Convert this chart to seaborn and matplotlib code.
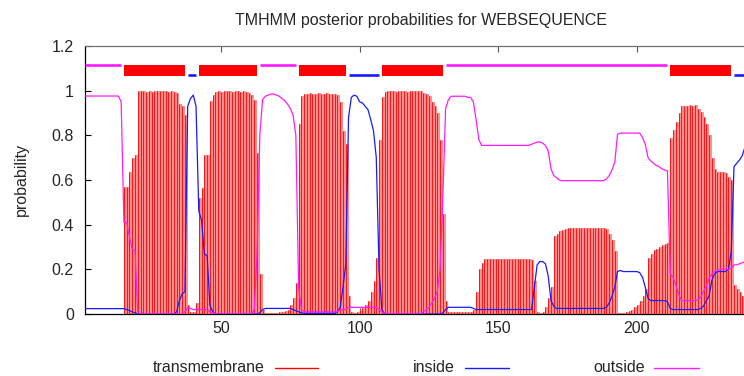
import matplotlib
matplotlib.use("Agg")
import matplotlib.pyplot as plt
from matplotlib.lines import Line2D
import pandas as pd
import seaborn as sns

# Per-residue posterior probabilities (residues 1..239)
tm_prob = [
    0, 0, 0, 0, 0, 0, 0, 0, 0, 0,
    0, 0, 0, 0, 0.57, 0.57, 0.635, 0.70, 0.71, 1.0,
    1.0, 1.0, 0.995, 1.0, 0.995, 1.0, 1.0, 1.0, 1.0, 1.0,
    0.995, 1.0, 0.995, 0.99, 0.94, 0.93, 0.89, 0.04, 0.01, 0.01,
    0.05, 0.52, 0.565, 0.71, 0.71, 0.955, 0.98, 0.995, 1.0, 0.995,
    1.0, 1.0, 1.0, 0.995, 1.0, 1.0, 0.995, 1.0, 0.995, 0.99,
    0.98, 0.96, 0.72, 0.18, 0.02, 0.005, 0.005, 0.005, 0.005, 0.005,
    0.01, 0.01, 0.015, 0.02, 0.04, 0.07, 0.14, 0.85, 0.975, 0.985,
    0.985, 0.99, 0.985, 0.985, 0.99, 0.985, 0.985, 0.99, 0.985, 0.985,
    0.985, 0.98, 0.95, 0.82, 0.76, 0.08, 0.01, 0.005, 0.01, 0.02,
    0.025, 0.04, 0.06, 0.10, 0.15, 0.25, 0.78, 0.97, 0.995, 1.0,
    1.0, 1.0, 0.995, 1.0, 1.0, 1.0, 0.995, 1.0, 1.0, 1.0,
    1.0, 1.0, 0.99, 0.985, 0.975, 0.95, 0.93, 0.90, 0.78, 0.45,
    0.06, 0.01, 0.01, 0.01, 0.01, 0.01, 0.01, 0.01, 0.01, 0.01,
    0.02, 0.10, 0.20, 0.23, 0.245, 0.245, 0.245, 0.245, 0.245, 0.245,
    0.245, 0.245, 0.245, 0.245, 0.245, 0.245, 0.245, 0.245, 0.245, 0.245,
    0.245, 0.24, 0.15, 0.01, 0.005, 0.01, 0.03, 0.07, 0.12, 0.35,
    0.36, 0.37, 0.375, 0.38, 0.385, 0.385, 0.385, 0.385, 0.385, 0.385,
    0.385, 0.385, 0.385, 0.385, 0.385, 0.385, 0.385, 0.385, 0.38, 0.36,
    0.33, 0.28, 0.005, 0.005, 0.005, 0.01, 0.015, 0.02, 0.03, 0.04,
    0.06, 0.08, 0.11, 0.25, 0.27, 0.285, 0.29, 0.30, 0.31, 0.315,
    0.32, 0.79, 0.825, 0.86, 0.90, 0.93, 0.93, 0.93, 0.935, 0.93,
    0.935, 0.92, 0.905, 0.88, 0.85, 0.80, 0.70, 0.65, 0.635, 0.635,
    0.635, 0.63, 0.615, 0.60, 0.13, 0.11, 0.10, 0.08, 0.07,
]

inside_prob = [
    0.024, 0.024, 0.024, 0.024, 0.024, 0.024, 0.024, 0.024, 0.024, 0.024,
    0.024, 0.024, 0.024, 0.024, 0.024, 0.02, 0.015, 0.01, 0.005, 0.0,
    0, 0, 0, 0, 0, 0, 0, 0, 0, 0,
    0, 0, 0, 0.01, 0.06, 0.09, 0.10, 0.93, 0.965, 0.98,
    0.93, 0.46, 0.42, 0.27, 0.26, 0.04, 0.01, 0, 0, 0,
    0, 0, 0, 0, 0, 0, 0, 0, 0, 0,
    0, 0, 0, 0.005, 0.02, 0.025, 0.025, 0.025, 0.025, 0.025,
    0.025, 0.025, 0.025, 0.025, 0.025, 0.02, 0.015, 0.01, 0.005, 0.003,
    0.003, 0.003, 0.003, 0.003, 0.003, 0.003, 0.003, 0.003, 0.003, 0.003,
    0.003, 0.01, 0.03, 0.12, 0.22, 0.88, 0.97, 0.98, 0.975, 0.95,
    0.945, 0.93, 0.915, 0.87, 0.82, 0.70, 0.20, 0.02, 0, 0,
    0, 0, 0, 0, 0, 0, 0, 0, 0, 0,
    0, 0, 0, 0, 0, 0, 0, 0, 0, 0.005,
    0.02, 0.03, 0.03, 0.03, 0.03, 0.03, 0.03, 0.03, 0.03, 0.03,
    0.025, 0.02, 0.02, 0.02, 0.02, 0.02, 0.02, 0.02, 0.02, 0.02,
    0.02, 0.02, 0.02, 0.02, 0.02, 0.02, 0.02, 0.02, 0.02, 0.02,
    0.02, 0.02, 0.12, 0.22, 0.235, 0.235, 0.225, 0.17, 0.06, 0.035,
    0.025, 0.025, 0.025, 0.025, 0.025, 0.025, 0.025, 0.025, 0.025, 0.025,
    0.025, 0.025, 0.025, 0.025, 0.025, 0.025, 0.025, 0.025, 0.03, 0.05,
    0.08, 0.12, 0.19, 0.195, 0.19, 0.19, 0.19, 0.19, 0.19, 0.19,
    0.185, 0.165, 0.12, 0.07, 0.06, 0.06, 0.06, 0.06, 0.06, 0.06,
    0.055, 0.025, 0.02, 0.02, 0.02, 0.02, 0.02, 0.02, 0.02, 0.02,
    0.02, 0.02, 0.025, 0.035, 0.06, 0.08, 0.15, 0.18, 0.19, 0.19,
    0.19, 0.19, 0.20, 0.28, 0.66, 0.675, 0.69, 0.71, 0.75,
]

outside_prob = [
    0.976, 0.976, 0.976, 0.976, 0.976, 0.976, 0.976, 0.976, 0.976, 0.976,
    0.976, 0.976, 0.976, 0.95, 0.41, 0.41, 0.345, 0.29, 0.285, 0.0,
    0, 0, 0, 0, 0, 0, 0, 0, 0, 0,
    0, 0, 0, 0, 0, 0, 0.01, 0.03, 0.025, 0.02,
    0.02, 0.02, 0.02, 0.02, 0.02, 0.01, 0.005, 0, 0, 0,
    0, 0, 0, 0, 0, 0, 0, 0, 0, 0,
    0, 0.02, 0.27, 0.80, 0.96, 0.975, 0.98, 0.985, 0.985, 0.98,
    0.975, 0.965, 0.955, 0.94, 0.92, 0.89, 0.80, 0.12, 0.02, 0.01,
    0.01, 0.01, 0.01, 0.01, 0.01, 0.01, 0.01, 0.01, 0.01, 0.01,
    0.01, 0.01, 0.02, 0.02, 0.02, 0.03, 0.03, 0.03, 0.03, 0.03,
    0.03, 0.03, 0.03, 0.03, 0.03, 0.03, 0.02, 0.01, 0, 0,
    0, 0, 0, 0, 0, 0, 0, 0, 0, 0,
    0, 0, 0.01, 0.02, 0.03, 0.05, 0.07, 0.10, 0.20, 0.52,
    0.92, 0.96, 0.975, 0.975, 0.975, 0.975, 0.975, 0.975, 0.97, 0.97,
    0.95, 0.87, 0.78, 0.755, 0.755, 0.755, 0.755, 0.755, 0.755, 0.755,
    0.755, 0.755, 0.755, 0.755, 0.755, 0.755, 0.755, 0.755, 0.755, 0.755,
    0.755, 0.76, 0.765, 0.77, 0.77, 0.765, 0.755, 0.73, 0.65, 0.62,
    0.61, 0.60, 0.597, 0.597, 0.597, 0.597, 0.597, 0.597, 0.597, 0.597,
    0.597, 0.597, 0.597, 0.597, 0.597, 0.597, 0.597, 0.597, 0.605, 0.62,
    0.645, 0.68, 0.805, 0.81, 0.81, 0.81, 0.81, 0.81, 0.81, 0.81,
    0.81, 0.79, 0.76, 0.70, 0.685, 0.675, 0.665, 0.66, 0.65, 0.645,
    0.64, 0.18, 0.165, 0.13, 0.09, 0.06, 0.06, 0.06, 0.06, 0.06,
    0.06, 0.065, 0.075, 0.10, 0.125, 0.16, 0.18, 0.19, 0.195, 0.20,
    0.20, 0.20, 0.20, 0.205, 0.22, 0.22, 0.225, 0.23, 0.235,
]

# Predicted topology segments shown along the top of the plot
seg_kind = ["outside", "TMhelix", "inside", "TMhelix", "outside", "TMhelix",
            "inside", "TMhelix", "outside", "TMhelix", "inside"]
seg_start = [1, 15, 38, 42, 64, 78, 96, 108, 131, 212, 235]
seg_end = [14, 37, 41, 63, 77, 95, 107, 130, 211, 234, 239]

x_ticks = [50, 100, 150, 200]
y_ticks = [0, 0.2, 0.4, 0.6, 0.8, 1.0, 1.2]
y_tick_labels = ["0", "0.2", "0.4", "0.6", "0.8", "1", "1.2"]

title = "TMHMM posterior probabilities for WEBSEQUENCE"
y_label = "probability"
legend_labels = ["transmembrane", "inside", "outside"]

residue = list(range(1, len(tm_prob) + 1))
df = pd.DataFrame({
    "residue": residue,
    "transmembrane": tm_prob,
    "inside": inside_prob,
    "outside": outside_prob,
})

sns.set_style("white")
plt.rcParams["font.family"] = ["Liberation Sans", "DejaVu Sans"]
FS = 11.5

RED = "#ff0000"
PINK = "#ff8f8f"
BLUE = "#1a1aff"
MAGENTA = "#ff1aff"

W, H = 744, 376
fig = plt.figure(figsize=(W / 100, H / 100), dpi=100)
fig.patch.set_facecolor("white")
ax = fig.add_axes([85.1 / W, 1 - 314 / H, (W - 85.1) / W, (314 - 46) / H])

# transmembrane probability as impulses
ax.bar(df["residue"], df["transmembrane"], width=1.0, align="edge",
       color=PINK, linewidth=0, zorder=1)
ax.vlines(df["residue"], 0, df["transmembrane"], color=RED,
          linewidth=0.6, zorder=2)

# inside / outside probability curves
sns.lineplot(data=df, x="residue", y="inside", color=BLUE, linewidth=0.9,
             ax=ax, zorder=3)
sns.lineplot(data=df, x="residue", y="outside", color=MAGENTA, linewidth=0.9,
             ax=ax, zorder=4)

# topology track
y_out, y_in = 1.113, 1.069
box_lo, box_hi = 1.067, 1.115
for kind, s, e in zip(seg_kind, seg_start, seg_end):
    if kind == "TMhelix":
        ax.fill_between([s, e], box_lo, box_hi, color=RED, linewidth=0,
                        zorder=5)
    elif kind == "inside":
        ax.hlines(y_in, s, e, color=BLUE, linewidth=1.9, capstyle="butt",
                  zorder=5)
    else:
        ax.hlines(y_out, s, e, color=MAGENTA, linewidth=1.9, capstyle="butt",
                  zorder=5)

ax.set_xlim(1, 238.6)
ax.set_ylim(0, 1.2)
ax.set_xticks(x_ticks)
ax.set_yticks(y_ticks)
ax.set_yticklabels(y_tick_labels)
ax.set_xlabel("")
ax.set_ylabel("")
ax.tick_params(axis="x", direction="in", top=True, bottom=True, length=4,
               width=0.8, pad=5, labelsize=FS, color="#555555")
ax.tick_params(axis="y", direction="in", left=True, right=False, length=4,
               width=0.8, pad=8, labelsize=FS, color="#000000")
for side in ["left", "bottom"]:
    ax.spines[side].set_color("black")
    ax.spines[side].set_linewidth(0.9)
ax.spines["top"].set_color("#707070")
ax.spines["top"].set_linewidth(0.9)
ax.spines["right"].set_visible(False)

fig.text(421 / W, 1 - 21 / H, title, ha="center", va="center", fontsize=FS)
fig.text(21.5 / W, 1 - 179 / H, y_label, rotation=90, ha="center",
         va="center", fontsize=FS)

# legend: label followed by a line sample
leg_colors = [RED, BLUE, MAGENTA]
leg_text_right = [265, 455, 645]
leg_line_span = [(275, 318), (465, 509), (654, 699)]
leg_y = 1 - 367.7 / H
for lab, col, tr, (l0, l1) in zip(legend_labels, leg_colors, leg_text_right,
                                  leg_line_span):
    fig.text(tr / W, leg_y, lab, ha="right", va="center", fontsize=FS)
    fig.add_artist(Line2D([l0 / W, l1 / W], [leg_y, leg_y], color=col,
                          linewidth=1.0, transform=fig.transFigure))

fig.savefig("out.png", dpi=100)
